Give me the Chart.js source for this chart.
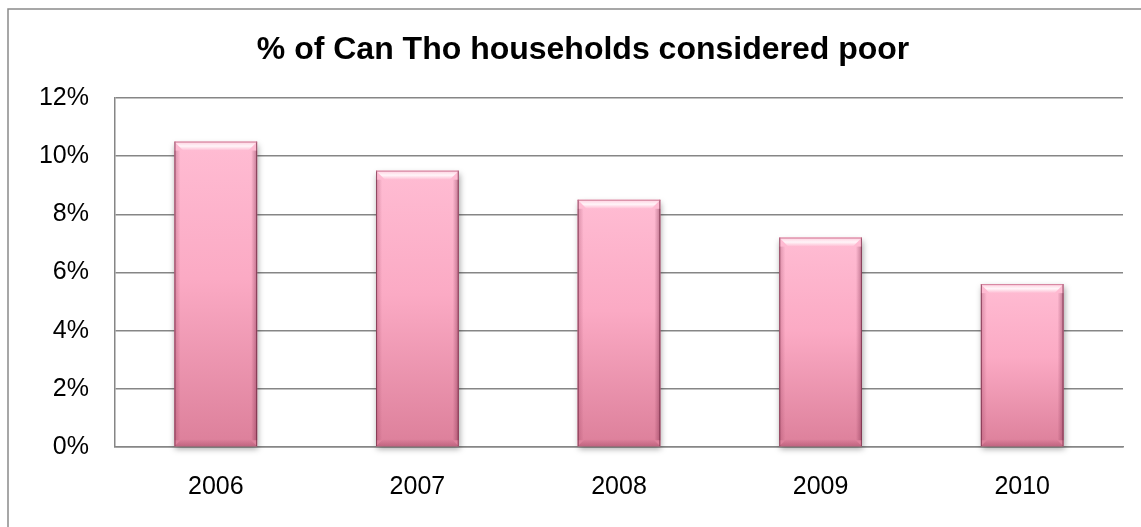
<!DOCTYPE html>
<html>
<head>
<meta charset="utf-8">
<style>
  html, body { margin: 0; padding: 0; background: #ffffff; }
  #wrap { width: 1141px; height: 527px; position: relative; }
</style>
<script src="https://cdn.jsdelivr.net/npm/chart.js@4.4.1/dist/chart.umd.min.js"></script>
</head>
<body>
<div id="wrap"><canvas id="c" width="1141" height="527"></canvas></div>
<script>
const chartTitle = '% of Can Tho households considered poor';
const years = ['2006', '2007', '2008', '2009', '2010'];
const poorShare = [10.5, 9.5, 8.5, 7.2, 5.6];
const yMin = 0;
const yMax = 12;
const yStep = 2;

const FONT = "Arial, 'Liberation Sans', sans-serif";

function barGradient(ctx) {
  const chart = ctx.chart;
  const ys = chart.scales.y;
  if (!ys || ctx.type !== 'data') return '#f7a8c2';
  const top = ys.getPixelForValue(ctx.raw);
  const base = ys.getPixelForValue(0);
  if (!isFinite(top) || !isFinite(base) || top === base) return '#f7a8c2';
  const g = chart.ctx.createLinearGradient(0, top, 0, base);
  g.addColorStop(0, '#ffbcd3');
  g.addColorStop(0.45, '#fbaac4');
  g.addColorStop(1, '#dc7f9a');
  return g;
}

const framePlugin = {
  id: 'frame',
  beforeDraw(chart) {
    const c = chart.ctx;
    c.save();
    c.fillStyle = '#ffffff';
    c.fillRect(0, 0, chart.width, chart.height);
    c.strokeStyle = '#8a8a8a';
    c.lineWidth = 1.5;
    c.strokeRect(8, 9, chart.width + 20, chart.height + 20);
    c.restore();
  },
  afterDraw(chart) {
    const c = chart.ctx;
    c.save();
    c.font = "bold 32px " + FONT;
    c.fillStyle = '#000000';
    c.textAlign = 'center';
    c.textBaseline = 'middle';
    c.fillText(chartTitle, chart.width * 0.511, 50);
    c.restore();
  }
};

function barProps(el) {
  const p = el.getProps(['x', 'y', 'base', 'width'], true);
  if (![p.x, p.y, p.base, p.width].every(isFinite)) return null;
  return p;
}

const bevelPlugin = {
  id: 'bevel',
  beforeDatasetsDraw(chart) {
    const c = chart.ctx;
    const meta = chart.getDatasetMeta(0);
    c.save();
    meta.data.forEach(el => {
      const p = barProps(el);
      if (!p) return;
      const l = p.x - p.width / 2;
      c.shadowColor = 'rgba(0,0,0,0.35)';
      c.shadowBlur = 6;
      c.shadowOffsetX = 1;
      c.shadowOffsetY = 3;
      c.fillStyle = '#e58aa5';
      c.fillRect(l, p.y, p.width, p.base - p.y);
    });
    c.restore();
  },
  afterDatasetsDraw(chart) {
    const c = chart.ctx;
    const meta = chart.getDatasetMeta(0);
    c.save();
    meta.data.forEach(el => {
      const p = barProps(el);
      if (!p) return;
      const l = p.x - p.width / 2;
      const r = p.x + p.width / 2;
      const t = p.y;
      const b = p.base;
      const bv = 9;
      let g = c.createLinearGradient(0, t, 0, t + bv);
      g.addColorStop(0, 'rgba(255,255,255,0.25)');
      g.addColorStop(0.5, 'rgba(255,255,255,0.85)');
      g.addColorStop(1, 'rgba(255,255,255,0.0)');
      c.fillStyle = g;
      c.beginPath();
      c.moveTo(l, t); c.lineTo(r, t); c.lineTo(r - bv, t + bv); c.lineTo(l + bv, t + bv); c.closePath();
      c.fill();
      g = c.createLinearGradient(l, 0, l + 6, 0);
      g.addColorStop(0, 'rgba(150,60,90,0.35)');
      g.addColorStop(1, 'rgba(150,60,90,0)');
      c.fillStyle = g;
      c.fillRect(l, t + bv, 6, b - t - bv - 6);
      g = c.createLinearGradient(r - 6, 0, r, 0);
      g.addColorStop(0, 'rgba(120,40,70,0)');
      g.addColorStop(1, 'rgba(120,40,70,0.45)');
      c.fillStyle = g;
      c.fillRect(r - 6, t + bv, 6, b - t - bv - 6);
      g = c.createLinearGradient(0, b - 7, 0, b);
      g.addColorStop(0, 'rgba(140,50,80,0)');
      g.addColorStop(1, 'rgba(140,50,80,0.35)');
      c.fillStyle = g;
      c.beginPath();
      c.moveTo(l + 7, b - 7); c.lineTo(r - 7, b - 7); c.lineTo(r, b); c.lineTo(l, b); c.closePath();
      c.fill();
      c.strokeStyle = 'rgba(110,40,65,0.75)';
      c.lineWidth = 1;
      c.beginPath();
      c.moveTo(r - 0.5, t); c.lineTo(r - 0.5, b);
      c.moveTo(l + 0.5, t); c.lineTo(l + 0.5, b);
      c.stroke();
      c.strokeStyle = 'rgba(200,110,140,0.8)';
      c.beginPath();
      c.moveTo(l, t + 0.5); c.lineTo(r, t + 0.5);
      c.stroke();
    });
    c.restore();
  }
};

new Chart(document.getElementById('c'), {
  type: 'bar',
  data: {
    labels: years,
    datasets: [{
      data: poorShare,
      backgroundColor: barGradient,
      borderWidth: 0,
      barPercentage: 0.41,
      categoryPercentage: 1.0
    }]
  },
  options: {
    responsive: false,
    animation: false,
    devicePixelRatio: 1,
    layout: { padding: { top: 98, right: 18, left: 0, bottom: 0 } },
    plugins: {
      legend: { display: false },
      title: { display: false },
      tooltip: { enabled: false }
    },
    scales: {
      x: {
        grid: { display: false, drawTicks: false },
        border: { display: true, color: '#868686', width: 1.5 },
        ticks: { color: '#000000', font: { family: FONT, size: 25 }, padding: 25, maxRotation: 0 },
        afterFit(scale) { scale.height = 80; }
      },
      y: {
        min: yMin,
        max: yMax,
        ticks: {
          stepSize: yStep,
          color: '#000000',
          font: { family: FONT, size: 25 },
          padding: 26,
          callback: v => v + '%'
        },
        grid: { color: '#868686', lineWidth: 1.5, drawTicks: false },
        border: { display: true, color: '#868686', width: 1.5 },
        afterFit(scale) { scale.width = 115; }
      }
    }
  },
  plugins: [framePlugin, bevelPlugin]
});
</script>
</body>
</html>
